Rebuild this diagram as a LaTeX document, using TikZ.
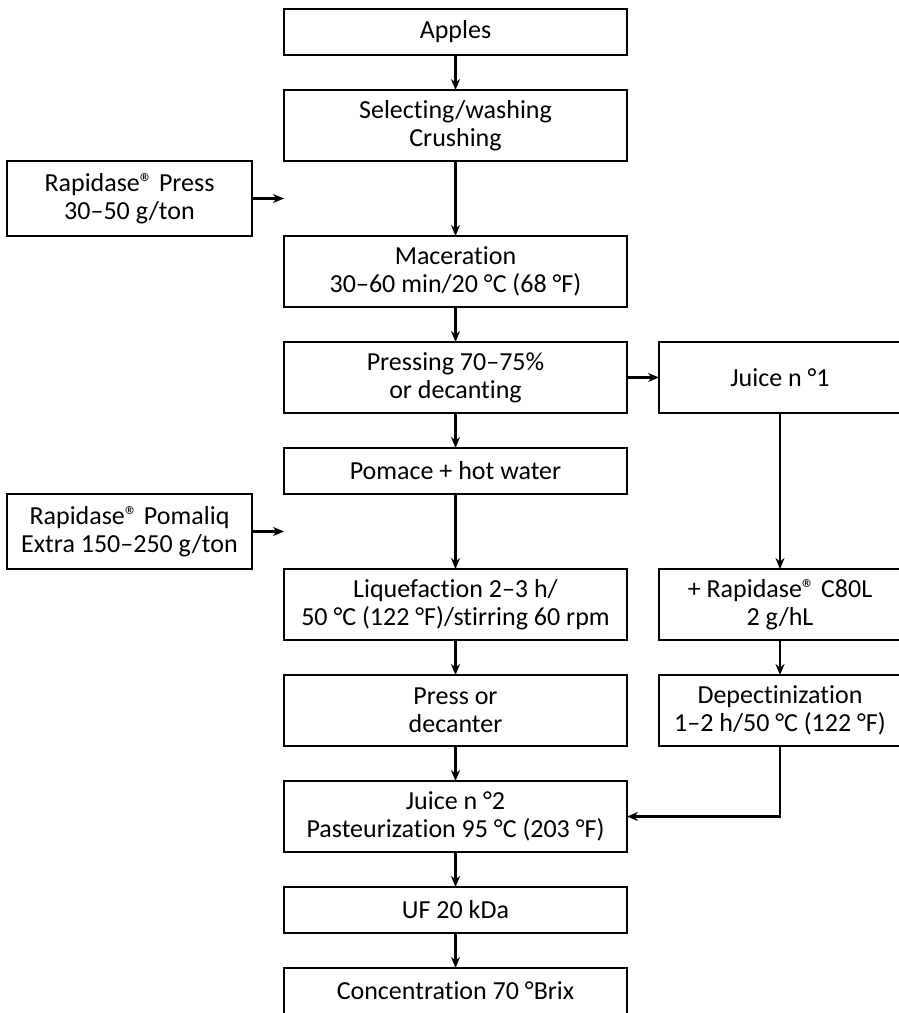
\documentclass[tikz,border=0pt]{standalone}
\usepackage{fontspec}
\setmainfont{Carlito}[Ligatures=NoCommon]
\usetikzlibrary{positioning,arrows.meta}

\begin{document}
\begin{tikzpicture}[x=0.5pt, y=-0.5pt, >={Stealth[length=5.5pt,width=4.5pt]},
    node distance=17.5pt,
    box/.style={draw, line width=0.6pt, align=center, inner sep=0pt, outer sep=0pt,
      minimum width=171.5pt, minimum height=35.5pt,
      font=\fontsize{13}{13.8}\selectfont},
    lowbox/.style={box, minimum height=23pt},
    sidebox/.style={box, minimum width=122.5pt, minimum height=37.5pt},
    juicebox/.style={box, minimum width=121pt},
    flow/.style={->, line width=1.1pt}]
  \useasboundingbox (0,0) rectangle (899,1013);

  % main column
  \node[lowbox] (apples) at (455.5,32) {Apples};
  \node[box, below=of apples] (select) {Selecting/washing\\Crushing};
  \node[box, below=37.5pt of select] (macer) {Maceration\\30–60 min/20 °C (68 °F)};
  \node[box, below=of macer] (pressing) {Pressing 70–75\%\\or decanting};
  \node[lowbox, below=of pressing] (pomace) {Pomace + hot water};
  \node[box, below=37.5pt of pomace] (liquef) {Liquefaction 2–3 h/\\50 °C (122 °F)/stirring 60 rpm};
  \node[box, below=of liquef] (decant) {Press or\\decanter};
  \node[box, below=of decant] (juicetwo) {Juice n °2\\Pasteurization 95 °C (203 °F)};
  \node[lowbox, below=of juicetwo] (uf) {UF 20 kDa};
  \node[lowbox, below=17.5pt of uf] (conc) {Concentration 70 °Brix};

  % enzymes on the left
  \node[sidebox, below left=0pt and 16pt of select.south west] (rpress) {Rapidase® Press\\30–50 g/ton};
  \node[sidebox, below left=0pt and 16pt of pomace.south west] (pomaliq) {Rapidase® Pomaliq\\Extra 150–250 g/ton};
  \coordinate (rpressend) at (rpress.east -| select.west);
  \coordinate (pomaliqend) at (pomaliq.east -| pomace.west);

  % juice n 1 branch
  \node[juicebox, right=16pt of pressing] (juiceone) {Juice n °1};
  \node[juicebox, right=16pt of liquef] (cl) {+ Rapidase® C80L\\2 g/hL};
  \node[juicebox, right=16pt of decant] (depect) {Depectinization\\1–2 h/50 °C (122 °F)};

  \draw[flow] (apples) -- (select);
  \draw[flow] (select) -- (macer);
  \draw[flow] (macer) -- (pressing);
  \draw[flow] (pressing) -- (pomace);
  \draw[flow] (pomace) -- (liquef);
  \draw[flow] (liquef) -- (decant);
  \draw[flow] (decant) -- (juicetwo);
  \draw[flow] (juicetwo) -- (uf);
  \draw[flow] (uf) -- (conc);
  \draw[flow] (rpress) -- (rpressend);
  \draw[flow] (pomaliq) -- (pomaliqend);
  \draw[flow] (pressing) -- (juiceone);
  \draw[flow] (juiceone) -- (cl);
  \draw[flow] (cl) -- (depect);
  \draw[flow] (depect.south) |- (juicetwo.east);
\end{tikzpicture}
\end{document}
